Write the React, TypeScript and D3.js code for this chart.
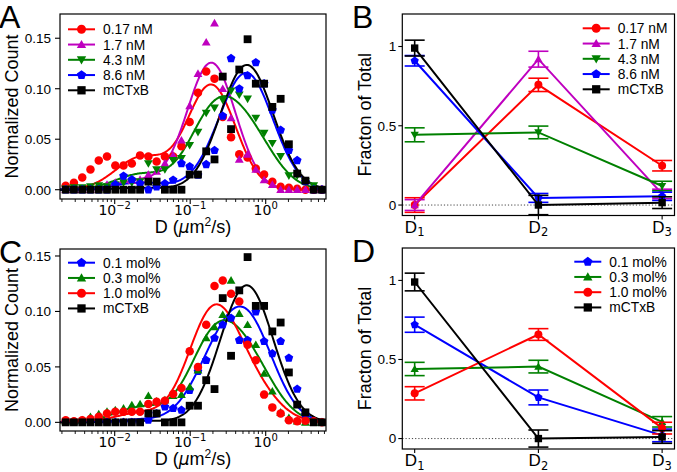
import React from "react";
import * as d3 from "d3";

// ---------- data ----------
// histogram bin centres, log10(D / µm²s⁻¹)
const logBins = [-2.649, -2.54, -2.43, -2.321, -2.211, -2.102, -1.992, -1.883, -1.773, -1.664, -1.554, -1.445, -1.335, -1.226, -1.116, -1.007, -0.897, -0.788, -0.678, -0.569, -0.459, -0.35, -0.24, -0.131, -0.021, 0.088, 0.198, 0.307, 0.417, 0.526, 0.636, 0.745];
const binWidth = 0.1095;

// panel A histograms
const a017 = [0.004, 0.007, 0.012, 0.02, 0.029, 0.033, 0.024, 0.024, 0.026, 0.034, 0.033, 0.028, 0.033, 0.033, 0.043, 0.067, 0.096, 0.117, 0.11, 0.072, 0.052, 0.035, 0.032, 0.021, 0.015, 0.008, 0.003, 0.002, 0.001, 0, 0, 0];
const a17 = [0, 0, 0, 0, 0.002, 0.005, 0.007, 0.01, 0.009, 0.01, 0.015, 0.018, 0.026, 0.034, 0.049, 0.083, 0.115, 0.146, 0.165, 0.1, 0.071, 0.03, 0.035, 0.02, 0.0096, 0.005, 0, 0, 0, 0, 0, 0];
const a43 = [0.001, 0.002, 0.002, 0.003, 0.004, 0.003, 0.005, 0.007, 0.007, 0.008, 0.026, 0.02, 0.02, 0.029, 0.031, 0.044, 0.057, 0.076, 0.081, 0.089, 0.098, 0.094, 0.09, 0.071, 0.056, 0.046, 0.033, 0.014, 0.014, 0.008, 0.004, 0];
const a86 = [0, 0, 0, 0, 0, 0, 0.005, 0.0136, 0.01, 0.006, 0, 0.003, 0.006, 0.0096, 0.026, 0.023, 0.0145, 0.025, 0.039, 0.073, 0.13, 0.1, 0.113, 0.126, 0.105, 0.079, 0.059, 0.039, 0.029, 0.008, 0, 0];
const mCTxB = [0, 0, 0, 0, 0, 0, 0, 0, 0, 0, 0.008, 0.008, 0, 0, 0, 0.015, 0.015, 0.038, 0.03, 0.112, 0.06, 0.119, 0.149, 0.105, 0.105, 0.082, 0.09, 0.045, 0.016, 0.009, 0, 0];
// panel C histograms
const c01 = [0, 0, 0, 0, 0, 0, 0, 0, 0, 0, 0.002, 0.008, 0.014, 0.0126, 0.011, 0.029, 0.046, 0.056, 0.076, 0.088, 0.094, 0.074, 0.074, 0.0998, 0.073, 0.062, 0.073, 0.058, 0.03, 0.0066, 0.001, 0];
const c03 = [0.001, 0.001, 0.002, 0.005, 0.0075, 0.0096, 0.011, 0.0126, 0.0156, 0.0165, 0.024, 0.019, 0.02, 0.024, 0.025, 0.032, 0.047, 0.076, 0.086, 0.097, 0.128, 0.098, 0.088, 0.07, 0.044, 0.028, 0.009, 0.004, 0.001, 0, 0, 0];
const c10 = [0.002, 0.001, 0.002, 0.003, 0.005, 0.008, 0.0096, 0.0096, 0.0096, 0.0096, 0.0165, 0.0186, 0.0195, 0.0255, 0.031, 0.064, 0.05, 0.088, 0.123, 0.128, 0.116, 0.109, 0.07, 0.056, 0.025, 0.0135, 0.008, 0.002, 0.001, 0.0015, 0.001, 0];

// three diffusing populations (log10 centre, log10 width)
const popCentres = [-0.25, -0.72, -1.65];
const popWidths = [0.35, 0.32, 0.34];
const popNames = ["1", "2", "3"];

// panel B fractions
const b017 = [0.0, 0.758, 0.248];
const b017Err = [0.046, 0.042, 0.033];
const b17 = [0.0, 0.92, 0.07];
const b17Err = [0.034, 0.05, 0.03];
const b43 = [0.443, 0.458, 0.12];
const b43Err = [0.044, 0.04, 0.03];
const b86 = [0.91, 0.045, 0.055];
const b86Err = [0.033, 0.028, 0.026];
const bCTxB = [0.99, 0.0, 0.015];
const bCTxBErr = [0.05, 0.061, 0.037];
// panel D fractions
const d01 = [0.72, 0.26, 0.02];
const d01Err = [0.048, 0.047, 0.04];
const d03 = [0.44, 0.455, 0.106];
const d03Err = [0.042, 0.04, 0.033];
const d10 = [0.286, 0.658, 0.066];
const d10Err = [0.042, 0.037, 0.037];
const dCTxB = [0.99, 0.0, 0.01];
const dCTxBErr = [0.056, 0.054, 0.04];

const yTicksHist = [0, 0.05, 0.1, 0.15];
const yTicksFrac = [0, 0.5, 1];
const xTicksHist = [-2, -1, 0];

// ---------- styling ----------
const RED = "#ff0000";
const MAG = "#bf00bf";
const GRN = "#008000";
const BLU = "#0000ff";
const BLK = "#000000";
const FONT = "'Liberation Sans', Arial, sans-serif";
const MATH = "'DejaVu Sans', sans-serif";

type Shape = "o" | "^" | "v" | "p" | "s";

function Marker({ shape, x, y, d, color }: { shape: Shape; x: number; y: number; d: number; color: string }) {
  const r = d / 2;
  if (shape === "o") return <circle cx={x} cy={y} r={r} fill={color} />;
  if (shape === "s") return <rect x={x - r * 0.92} y={y - r * 0.92} width={r * 1.84} height={r * 1.84} fill={color} />;
  let pts: [number, number][] = [];
  if (shape === "^" || shape === "v") {
    const R = r * 1.2;
    const s = shape === "^" ? 1 : -1;
    pts = [0, 120, 240].map((a) => {
      const t = ((a - 90) * Math.PI) / 180;
      return [x + R * Math.cos(t), y + s * R * Math.sin(t) + s * R * 0.15];
    });
  } else {
    const R = r * 1.08;
    pts = [0, 72, 144, 216, 288].map((a) => {
      const t = ((a - 90) * Math.PI) / 180;
      return [x + R * Math.cos(t), y + R * Math.sin(t)];
    });
  }
  return <polygon points={pts.map((p) => p.join(",")).join(" ")} fill={color} />;
}

function fitCurve(fr: number[]) {
  const lo = -2.7245, hi = 0.7987;
  return d3.range(301).map((i) => {
    const L = lo + ((hi - lo) * i) / 300;
    let v = 0;
    fr.forEach((f, k) => {
      const s = popWidths[k];
      v += ((f * binWidth) / (s * Math.sqrt(2 * Math.PI))) * Math.exp(-((L - popCentres[k]) ** 2) / (2 * s * s));
    });
    return [L, v] as [number, number];
  });
}

type HistSeries = { label: string; color: string; shape: Shape; values: number[]; fractions: number[] };
type FracSeries = { label: string; color: string; shape: Shape; values: number[]; errs: number[] };

function Legend({ items, x0, y0, step }: { items: { label: string; color: string; shape: Shape }[]; x0: number; y0: number; step: number }) {
  return (
    <g>
      {items.map((it, i) => {
        const y = y0 + i * step;
        return (
          <g key={it.label}>
            <line x1={x0} x2={x0 + 27} y1={y} y2={y} stroke={it.color} strokeWidth={2} />
            <Marker shape={it.shape} x={x0 + 13.5} y={y} d={9} color={it.color} />
            <text x={x0 + 35} y={y} dy="0.36em" fontFamily={FONT} fontSize={13.8} fill="#000">
              {it.label}
            </text>
          </g>
        );
      })}
    </g>
  );
}

function HistPanel({ top, bottom, yDom, series, letter, legendY }: { top: number; bottom: number; yDom: [number, number]; series: HistSeries[]; letter: string; legendY: number }) {
  const left = 60, right = 326;
  const x = d3.scaleLinear().domain([-2.7245, 0.7987]).range([left, right]);
  const y = d3.scaleLinear().domain(yDom).range([bottom, top]);
  const line = d3.line<[number, number]>().x((d) => x(d[0])).y((d) => y(d[1]));
  const minor: number[] = [];
  for (let e = -3; e <= 0; e++) for (let m = 2; m <= 9; m++) {
    const L = e + Math.log10(m);
    if (L > -2.7245 && L < 0.7987) minor.push(L);
  }
  const cid = "clip" + letter;
  return (
    <g>
      <defs>
        <clipPath id={cid}>
          <rect x={left} y={top} width={right - left} height={bottom - top} />
        </clipPath>
      </defs>
      <g clipPath={`url(#${cid})`}>
        {series.map((s) => (
          <g key={s.label}>
            <path d={line(fitCurve(s.fractions)) || ""} fill="none" stroke={s.color} strokeWidth={2} />
          </g>
        ))}
        {series.map((s) => (
          <g key={s.label + "m"}>
            {s.values.map((v, i) => (
              <Marker key={i} shape={s.shape} x={x(logBins[i])} y={y(v)} d={8.5} color={s.color} />
            ))}
          </g>
        ))}
      </g>
      <rect x={left} y={top} width={right - left} height={bottom - top} fill="none" stroke="#000" strokeWidth={1.2} />
      {yTicksHist.map((t) => (
        <g key={t}>
          <line x1={left - 5} x2={left} y1={y(t)} y2={y(t)} stroke="#000" strokeWidth={1.1} />
          <text x={left - 9} y={y(t)} dy="0.36em" textAnchor="end" fontFamily={FONT} fontSize={13.5}>
            {t.toFixed(2)}
          </text>
        </g>
      ))}
      {minor.map((L) => (
        <line key={L} x1={x(L)} x2={x(L)} y1={bottom} y2={bottom + 3} stroke="#000" strokeWidth={0.9} />
      ))}
      {xTicksHist.map((t) => (
        <g key={t}>
          <line x1={x(t)} x2={x(t)} y1={bottom} y2={bottom + 5} stroke="#000" strokeWidth={1.1} />
          <text x={x(t)} y={bottom + 16} textAnchor="middle" fontFamily={MATH} fontSize={14}>
            10
            <tspan fontSize={10} dy={-6}>
              {t === 0 ? "0" : "\u2212" + Math.abs(t)}
            </tspan>
          </text>
        </g>
      ))}
      <text x={(left + right) / 2} y={bottom + 33.5} textAnchor="middle" fontFamily={FONT} fontSize={18}>
        D (<tspan fontFamily={MATH} fontStyle="italic" fontSize={17}>μ</tspan>m
        <tspan fontSize={12} dy={-7}>2</tspan>
        <tspan dy={7}>/s)</tspan>
      </text>
      <text transform={`translate(18,${(top + bottom) / 2}) rotate(-90)`} textAnchor="middle" fontFamily={FONT} fontSize={18}>
        Normalized Count
      </text>
      <text x={-1} y={top + 14} fontFamily={FONT} fontSize={32}>
        {letter}
      </text>
      <Legend items={series} x0={68} y0={legendY} step={15.25} />
    </g>
  );
}

function FracPanel({ top, bottom, series, letter, legendX, legendY }: { top: number; bottom: number; series: FracSeries[]; letter: string; legendX: number; legendY: number }) {
  const left = 402.3, right = 674.5;
  const x = d3.scaleLinear().domain([0.9, 3.1]).range([left, right]);
  const y = d3.scaleLinear().domain([-0.066, 1.205]).range([bottom, top]);
  const line = d3.line<number>().x((_, i) => x(i + 1)).y((d) => y(d));
  return (
    <g>
      <line x1={left} x2={right} y1={y(0)} y2={y(0)} stroke="#444" strokeWidth={1} strokeDasharray="1.2,2" />
      {series.map((s) => (
        <g key={s.label}>
          <path d={line(s.values) || ""} fill="none" stroke={s.color} strokeWidth={2} />
          {s.values.map((v, i) => (
            <g key={i}>
              <line x1={x(i + 1)} x2={x(i + 1)} y1={y(v - s.errs[i])} y2={y(v + s.errs[i])} stroke={s.color} strokeWidth={1.6} />
              <line x1={x(i + 1) - 10} x2={x(i + 1) + 10} y1={y(v - s.errs[i])} y2={y(v - s.errs[i])} stroke={s.color} strokeWidth={1.6} />
              <line x1={x(i + 1) - 10} x2={x(i + 1) + 10} y1={y(v + s.errs[i])} y2={y(v + s.errs[i])} stroke={s.color} strokeWidth={1.6} />
              <Marker shape={s.shape} x={x(i + 1)} y={y(v)} d={8} color={s.color} />
            </g>
          ))}
        </g>
      ))}
      <rect x={left} y={top} width={right - left} height={bottom - top} fill="none" stroke="#000" strokeWidth={1.2} />
      {yTicksFrac.map((t) => (
        <g key={t}>
          <line x1={left - 4} x2={left} y1={y(t)} y2={y(t)} stroke="#000" strokeWidth={1.1} />
          <text x={left - 6} y={y(t)} dy="0.36em" textAnchor="end" fontFamily={FONT} fontSize={13.5}>
            {String(t)}
          </text>
        </g>
      ))}
      {popNames.map((n, i) => (
        <g key={n}>
          <line x1={x(i + 1)} x2={x(i + 1)} y1={bottom} y2={bottom + 4} stroke="#000" strokeWidth={1.1} />
          <text x={x(i + 1)} y={bottom + 17} textAnchor="middle" fontFamily={FONT} fontSize={17}>
            D<tspan fontFamily={MATH} fontSize={11.5} dy={3.5}>{n}</tspan>
          </text>
        </g>
      ))}
      <text transform={`translate(370.5,${(top + bottom) / 2}) rotate(-90)`} textAnchor="middle" fontFamily={FONT} fontSize={18}>
        Fracton of Total
      </text>
      <text x={352} y={top + 14} fontFamily={FONT} fontSize={32}>
        {letter}
      </text>
      <Legend items={series} x0={legendX} y0={legendY} step={15.25} />
    </g>
  );
}

export default function App() {
  const seriesA: HistSeries[] = [
    { label: "0.17 nM", color: RED, shape: "o", values: a017, fractions: b017 },
    { label: "1.7 nM", color: MAG, shape: "^", values: a17, fractions: b17 },
    { label: "4.3 nM", color: GRN, shape: "v", values: a43, fractions: b43 },
    { label: "8.6 nM", color: BLU, shape: "p", values: a86, fractions: b86 },
    { label: "mCTxB", color: BLK, shape: "s", values: mCTxB, fractions: bCTxB },
  ];
  const seriesC: HistSeries[] = [
    { label: "0.1 mol%", color: BLU, shape: "p", values: c01, fractions: d01 },
    { label: "0.3 mol%", color: GRN, shape: "^", values: c03, fractions: d03 },
    { label: "1.0 mol%", color: RED, shape: "o", values: c10, fractions: d10 },
    { label: "mCTxB", color: BLK, shape: "s", values: mCTxB, fractions: dCTxB },
  ];
  const seriesB: FracSeries[] = [
    { label: "0.17 nM", color: RED, shape: "o", values: b017, errs: b017Err },
    { label: "1.7 nM", color: MAG, shape: "^", values: b17, errs: b17Err },
    { label: "4.3 nM", color: GRN, shape: "v", values: b43, errs: b43Err },
    { label: "8.6 nM", color: BLU, shape: "p", values: b86, errs: b86Err },
    { label: "mCTxB", color: BLK, shape: "s", values: bCTxB, errs: bCTxBErr },
  ];
  const seriesD: FracSeries[] = [
    { label: "0.1 mol%", color: BLU, shape: "p", values: d01, errs: d01Err },
    { label: "0.3 mol%", color: GRN, shape: "^", values: d03, errs: d03Err },
    { label: "1.0 mol%", color: RED, shape: "o", values: d10, errs: d10Err },
    { label: "mCTxB", color: BLK, shape: "s", values: dCTxB, errs: dCTxBErr },
  ];
  return (
    <svg width={677} height={472} style={{ position: "absolute", left: 0, top: 0, background: "#fff" }}>
      <rect width={677} height={472} fill="#fff" />
      <HistPanel top={14} bottom={199} yDom={[-0.0092, 0.174]} series={seriesA} letter="A" legendY={29.3} />
      <HistPanel top={249} bottom={431} yDom={[-0.0078, 0.1563]} series={seriesC} letter="C" legendY={262.7} />
      <FracPanel top={14} bottom={215.5} series={seriesB} letter="B" legendX={582.7} legendY={28.3} />
      <FracPanel top={248} bottom={449} series={seriesD} letter="D" legendX={574.3} legendY={261.7} />
    </svg>
  );
}
